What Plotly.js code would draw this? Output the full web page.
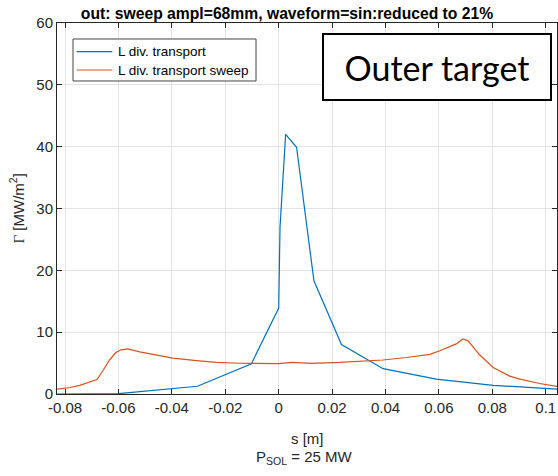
<!DOCTYPE html>
<html>
<head>
<meta charset="utf-8">
<script src="https://cdn.plot.ly/plotly-3.0.1.min.js"></script>
<style>html,body{margin:0;padding:0;background:#fff;}#chart{width:558px;height:476px;}</style>
</head>
<body>
<div id="chart"></div>
<script>
// Blue series: L div. transport
const sTransport = [-0.083, -0.06, -0.0304, -0.0102, 0.0, 0.0005, 0.0026, 0.0067, 0.0132, 0.0235, 0.0391, 0.059, 0.0803, 0.1042];
const gTransport = [0.0, 0.05, 1.25, 4.9, 13.9, 27.0, 42.0, 39.9, 18.3, 8.0, 4.1, 2.4, 1.4, 0.8];

// Orange series: L div. transport sweep
const sSweep = [-0.083, -0.078, -0.0745, -0.0705, -0.068, -0.0655, -0.0635, -0.061, -0.059, -0.0565, -0.052, -0.0446, -0.0396, -0.0308, -0.0233, -0.0146, -0.005, 0.0, 0.005, 0.012, 0.0228, 0.032, 0.039, 0.0478, 0.0566, 0.0603, 0.064, 0.0665, 0.069, 0.0709, 0.073, 0.0753, 0.0803, 0.0865, 0.0903, 0.0977, 0.1045];
const gSweep = [0.8, 1.05, 1.4, 1.95, 2.35, 4.0, 5.4, 6.7, 7.15, 7.3, 6.8, 6.2, 5.8, 5.4, 5.1, 4.97, 4.85, 4.9, 5.1, 4.95, 5.1, 5.3, 5.5, 5.9, 6.4, 7.0, 7.6, 8.1, 8.9, 8.6, 7.5, 6.3, 4.3, 2.9, 2.4, 1.7, 1.2];

const seriesNames = ['L div. transport', 'L div. transport sweep'];
const seriesColors = ['#0072BD', '#D95319'];

const xTickVals = [-0.08, -0.06, -0.04, -0.02, 0, 0.02, 0.04, 0.06, 0.08, 0.1];
const xTickText = ['-0.08', '-0.06', '-0.04', '-0.02', '0', '0.02', '0.04', '0.06', '0.08', '0.1'];
const yTickVals = [0, 10, 20, 30, 40, 50, 60];

const axisColor = '#262626';
const gridColor = '#e3e3e3';
const fontFam = 'Liberation Sans, Arial, sans-serif';

const traces = [
  {x: sTransport, y: gTransport, type: 'scatter', mode: 'lines', name: seriesNames[0],
   line: {color: seriesColors[0], width: 1.2}},
  {x: sSweep, y: gSweep, type: 'scatter', mode: 'lines', name: seriesNames[1],
   line: {color: seriesColors[1], width: 1.2}}
];

// Legend drawn by hand (MATLAB-style compact box)
const legBox = {x0: 0.032, x1: 0.398, y0: 0.8437, y1: 0.9569};
const legRowsY = [0.9226, 0.8733];
const legLineX = [0.0393, 0.1107];
const legTextX = 0.118;

const shapes = [
  {type: 'rect', xref: 'paper', yref: 'paper', x0: legBox.x0, x1: legBox.x1, y0: legBox.y0, y1: legBox.y1,
   line: {color: '#444', width: 1}, fillcolor: '#fff', layer: 'above'}
];
const legendAnnots = [];
seriesNames.forEach((nm, i) => {
  shapes.push({type: 'line', xref: 'paper', yref: 'paper', x0: legLineX[0], x1: legLineX[1],
               y0: legRowsY[i], y1: legRowsY[i], line: {color: seriesColors[i], width: 1.2}, layer: 'above'});
  legendAnnots.push({xref: 'paper', yref: 'paper', x: legTextX, y: legRowsY[i], xanchor: 'left', yanchor: 'middle',
                     text: nm, showarrow: false, font: {family: fontFam, size: 13.5, color: '#000'}});
});

const layout = {
  width: 558, height: 476,
  margin: {l: 57, r: 1, t: 23, b: 82, pad: 0},
  paper_bgcolor: '#fff', plot_bgcolor: '#fff',
  font: {family: fontFam, size: 15, color: axisColor},
  title: {text: '<b>out: sweep ampl=68mm, waveform=sin:reduced to 21%</b>',
          font: {family: fontFam, size: 15.7, color: '#000'},
          x: 287/558, xanchor: 'center', xref: 'container',
          y: 1 - 14/476, yanchor: 'middle', yref: 'container'},
  xaxis: {range: [-0.083, 0.1042], tickvals: xTickVals, ticktext: xTickText,
          showgrid: true, gridcolor: gridColor, zeroline: false,
          showline: true, linecolor: axisColor, linewidth: 1, mirror: 'ticks',
          ticks: 'inside', ticklen: 5, tickcolor: axisColor,
          tickfont: {size: 15, color: axisColor}},
  yaxis: {range: [0, 60], tickvals: yTickVals,
          showgrid: true, gridcolor: gridColor, zeroline: false,
          showline: true, linecolor: axisColor, linewidth: 1, mirror: 'ticks',
          ticks: 'inside', ticklen: 5, tickcolor: axisColor,
          tickfont: {size: 15, color: axisColor}},
  showlegend: false,
  shapes: shapes,
  annotations: legendAnnots.concat([
    {xref: 'paper', yref: 'paper', x: 0.76, y: 0.881, xanchor: 'center', yanchor: 'middle',
     text: 'Outer target', showarrow: false,
     font: {family: 'Lato, sans-serif', size: 34, color: '#000'},
     bordercolor: '#000', borderwidth: 2, bgcolor: '#fff', width: 224, height: 62},
    {xref: 'paper', yref: 'paper', x: 0.5, y: -0.1186, xanchor: 'center', yanchor: 'middle',
     text: 's [m]', showarrow: false, font: {family: fontFam, size: 15, color: axisColor}},
    {xref: 'paper', yref: 'paper', x: 0.494, y: -0.172, xanchor: 'center', yanchor: 'middle',
     text: 'P<sub>SOL</sub> = 25 MW', showarrow: false, font: {family: fontFam, size: 15, color: axisColor}},
    {xref: 'paper', yref: 'paper', x: -0.08, y: 0.5, xanchor: 'center', yanchor: 'middle',
     textangle: -90, showarrow: false,
     text: '<span style="font-family:Liberation Serif">Γ</span> [MW/m<sup>2</sup>]',
     font: {family: fontFam, size: 15, color: axisColor}}
  ])
};

Plotly.newPlot('chart', traces, layout, {displayModeBar: false, staticPlot: true});
</script>
</body>
</html>
